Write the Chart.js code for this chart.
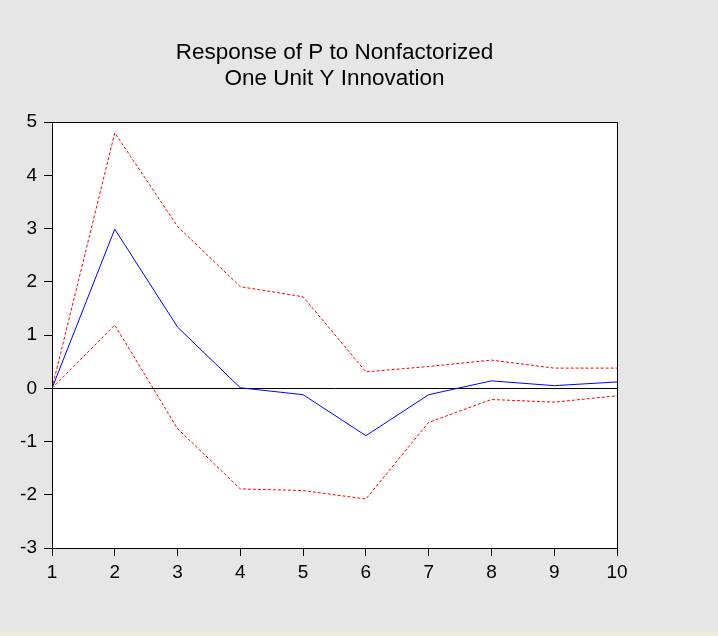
<!DOCTYPE html>
<html>
<head>
<meta charset="utf-8">
<script src="https://cdn.jsdelivr.net/npm/chart.js@4"></script>
<style>
  html, body { margin: 0; padding: 0; background: #e6e6e6; }
  #wrap { position: relative; width: 718px; height: 636px; }
  #strip { position: absolute; left: 0; top: 632px; width: 718px; height: 4px; background: #eeebdb; }
</style>
</head>
<body>
<div id="wrap">
  <canvas id="chart" width="718" height="636"></canvas>
  <div id="strip"></div>
</div>
<script>
const periods = [1, 2, 3, 4, 5, 6, 7, 8, 9, 10];
const response = [0, 2.99, 1.15, 0.01, -0.12, -0.89, -0.12, 0.14, 0.05, 0.12];
const upperBand = [0, 4.80, 3.04, 1.91, 1.72, 0.31, 0.41, 0.53, 0.38, 0.38];
const lowerBand = [0, 1.19, -0.76, -1.89, -1.92, -2.08, -0.64, -0.21, -0.26, -0.14];
const titleLines = ["Response of P to Nonfactorized", "One Unit Y Innovation"];

const fontFamily = "'Liberation Sans', Arial, sans-serif";

function toPoints(values) {
  return periods.map((p, i) => ({ x: p, y: values[i] }));
}

// marco completo del area de graficado
const framePlugin = {
  id: "frame",
  afterDatasetsDraw(chart) {
    const a = chart.chartArea;
    const ctx = chart.ctx;
    ctx.save();
    ctx.strokeStyle = "#000";
    ctx.lineWidth = 1;
    ctx.strokeRect(Math.round(a.left) + 0.5, Math.round(a.top) + 0.5,
      Math.round(a.right - a.left), Math.round(a.bottom - a.top));
    ctx.restore();
  },
};

const bgPlugin = {
  id: "plotBg",
  beforeDraw(chart) {
    const a = chart.chartArea;
    const ctx = chart.ctx;
    ctx.save();
    ctx.fillStyle = "#fff";
    ctx.fillRect(a.left, a.top, a.right - a.left, a.bottom - a.top);
    ctx.restore();
  },
};

new Chart(document.getElementById("chart"), {
  type: "line",
  data: {
    datasets: [
      {
        data: toPoints(upperBand),
        borderColor: "#ff0000",
        borderWidth: 1,
        borderDash: [3, 2],
        pointRadius: 0,
        tension: 0,
      },
      {
        data: toPoints(lowerBand),
        borderColor: "#ff0000",
        borderWidth: 1,
        borderDash: [3, 2],
        pointRadius: 0,
        tension: 0,
      },
      {
        data: toPoints(response),
        borderColor: "#0000ff",
        borderWidth: 1,
        pointRadius: 0,
        tension: 0,
      },
    ],
  },
  options: {
    responsive: false,
    animation: false,
    layout: {
      padding: { left: 0, right: 101, top: 0, bottom: 48 },
    },
    plugins: {
      legend: { display: false },
      tooltip: { enabled: false },
      title: {
        display: true,
        fullSize: false,
        text: titleLines,
        color: "#000",
        font: { family: fontFamily, size: 22.5, weight: "normal", lineHeight: 1.16 },
        padding: { top: 40, bottom: 30 },
      },
    },
    scales: {
      x: {
        type: "linear",
        min: 1,
        max: 10,
        afterFit(scale) {
          scale.height = 40;
        },
        ticks: {
          stepSize: 1,
          color: "#000",
          padding: 5,
          font: { family: fontFamily, size: 19 },
        },
        grid: {
          drawOnChartArea: false,
          tickLength: 8,
          tickColor: "#000",
        },
        border: { display: false },
      },
      y: {
        min: -3,
        max: 5,
        afterFit(scale) {
          scale.width = 52;
        },
        ticks: {
          stepSize: 1,
          color: "#000",
          padding: 7,
          font: { family: fontFamily, size: 19 },
        },
        grid: {
          color: (ctx) => (ctx.tick && ctx.tick.value === 0 ? "#000" : "rgba(0,0,0,0)"),
          tickColor: "#000",
          tickLength: 8,
        },
        border: { display: false },
      },
    },
  },
  plugins: [bgPlugin, framePlugin],
});
</script>
</body>
</html>
